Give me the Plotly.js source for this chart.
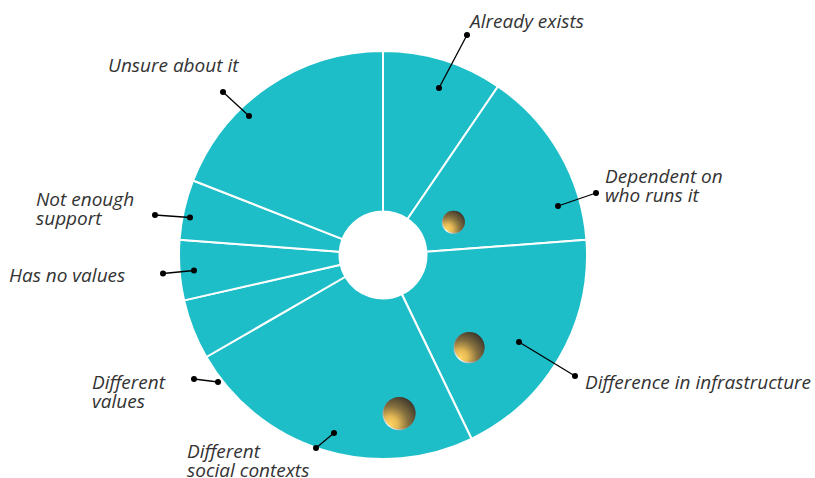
<!DOCTYPE html>
<html>
<head>
<meta charset="utf-8">
<script src="https://cdn.plot.ly/plotly-3.0.1.min.js"></script>
<style>html,body{margin:0;padding:0;background:#fff}#c{width:815px;height:478px}</style>
</head>
<body>
<div id="c"></div>
<script>
const categories = ["Already exists","Dependent on<br>who runs it","Difference in infrastructure","Different<br>social contexts","Different<br>values","Has no values","Not enough<br>support","Unsure about it"];
const counts = [2,3,4,5,1,1,1,4];
const leaderX = [[467,439],[596,558],[575,519],[316,334],[194,218],[163,194],[155,190],[223,249]];
const leaderY = [[35,88],[193,206],[376,342],[448,433],[379,382],[273.5,270.5],[215,217.5],[92,116]];
const labelX = [467,603.5,583.5,185.5,90.5,7.5,35,106.5];
const labelY = [21,176,382,451,382,275,199,65];
const sphereX = [453.3,469,399];
const sphereY = [222.3,347.7,413.7];
const sphereSize = [23,31,33];

const W = 815, H = 478;
const cx = 383, cy = 255, R = 204;

const traces = [{
  type:'pie', values:counts, labels:categories, sort:false, direction:'clockwise', rotation:0,
  hole:43.5/204, textinfo:'none', hoverinfo:'none', showlegend:false,
  marker:{colors:counts.map(()=> '#1DBEC8'), line:{color:'#fff',width:2}},
  domain:{x:[(cx-R)/W,(cx+R)/W], y:[1-(cy+R)/H,1-(cy-R)/H]}
}];
leaderX.forEach((xs,i)=>traces.push({
  type:'scatter', mode:'lines+markers', x:xs, y:leaderY[i], hoverinfo:'none', showlegend:false,
  line:{color:'#000',width:1.3}, marker:{color:'#000',size:6}
}));
// rim of each sphere
traces.push({type:'scatter',mode:'markers',x:sphereX,y:sphereY,hoverinfo:'none',showlegend:false,
  marker:{size:sphereSize,color:'#8a8a88',opacity:1,line:{width:0}}});
// body of each sphere
traces.push({type:'scatter',mode:'markers',x:sphereX.map(v=>v+0.5),y:sphereY.map(v=>v-0.6),hoverinfo:'none',showlegend:false,
  marker:{size:sphereSize.map(s=>s-1),color:'#8f7a45',opacity:1,line:{width:0}}});

const annotations = [];
categories.forEach((c,i)=>{
  c.split('<br>').forEach((t,j)=>annotations.push({
    xref:'x',yref:'y',x:labelX[i],y:labelY[i]+j*18.5,text:t,showarrow:false,
    xanchor:'left',yanchor:'middle',borderpad:0,
    font:{family:'"Open Sans", sans-serif',size:19,color:'#333333',style:'italic',weight:400}
  }));
});

const layout = {
  width:W,height:H,margin:{l:0,r:0,t:0,b:0},paper_bgcolor:'#fff',plot_bgcolor:'rgba(0,0,0,0)',
  xaxis:{range:[0,W],visible:false,fixedrange:true},
  yaxis:{range:[H,0],visible:false,fixedrange:true},
  showlegend:false,annotations
};

function addGradient(svg,id,stops){
  const ns='http://www.w3.org/2000/svg';
  const g=document.createElementNS(ns,'radialGradient');
  g.setAttribute('id',id);
  g.setAttribute('cx','0.2');g.setAttribute('cy','0.85');g.setAttribute('r','0.95');
  stops.forEach(s=>{
    const e=document.createElementNS(ns,'stop');
    e.setAttribute('offset',s[0]);e.setAttribute('stop-color',s[1]);
    g.appendChild(e);
  });
  svg.querySelector('defs').appendChild(g);
}

Plotly.newPlot('c',traces,layout,{staticPlot:true,displayModeBar:false}).then(()=>{
  const pie = document.querySelector('#c .pielayer');
  const cart = document.querySelector('#c .cartesianlayer');
  if (pie && cart) cart.parentNode.insertBefore(pie, cart);
  const svg=document.querySelector('#c .main-svg');
  addGradient(svg,'rimGrad',[[0,'#ffffff'],[0.35,'#b8b8b6'],[1,'#4a453e']]);
  addGradient(svg,'bodyGrad',[[0,'#ffd45f'],[0.25,'#e6ba55'],[0.6,'#85703f'],[1,'#3f392d']]);
  const tr=document.querySelectorAll('#c .scatterlayer .trace');
  const rim=tr[tr.length-2], body=tr[tr.length-1];
  rim.querySelectorAll('path.point').forEach(p=>{p.style.fill='url(#rimGrad)';});
  body.querySelectorAll('path.point').forEach(p=>{p.style.fill='url(#bodyGrad)';});
});
</script>
</body>
</html>
